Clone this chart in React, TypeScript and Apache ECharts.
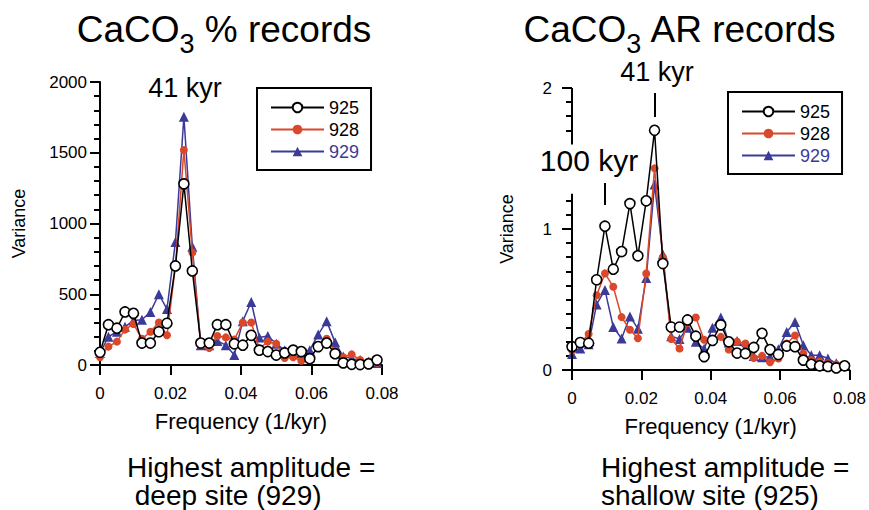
import React, { useEffect, useRef } from 'react';
import * as echarts from 'echarts';

const FONT = '"Liberation Sans", Arial, Helvetica, sans-serif';
const BLACK = '#000000';
const RED = '#d9482b';
const BLUE = '#3b3a98';

// frequency grid (1/kyr)
const freq = [
  0, 0.0024, 0.0048, 0.0071, 0.0095, 0.0119, 0.0143, 0.0167, 0.019, 0.0214,
  0.0238, 0.0262, 0.0286, 0.031, 0.0333, 0.0357, 0.0381, 0.0405, 0.0429, 0.0452,
  0.0476, 0.05, 0.0524, 0.0548, 0.0571, 0.0595, 0.0619, 0.0643, 0.0667, 0.069,
  0.0714, 0.0738, 0.0762, 0.0786,
];

// CaCO3 % records (variance)
const pct925 = [90, 285, 260, 375, 365, 155, 155, 235, 295, 700, 1280, 665, 155, 155, 285, 285, 150, 140, 210, 105, 95, 70, 85, 105, 95, 45, 130, 155, 80, 15, 5, 3, 8, 35];
const pct928 = [55, 130, 165, 250, 290, 185, 235, 300, 210, 700, 1520, 795, 140, 120, 205, 195, 180, 300, 300, 115, 165, 150, 50, 55, 30, 45, 130, 185, 100, 55, 75, 35, 25, 15];
const pct929 = [85, 200, 235, 270, 315, 320, 375, 500, 395, 870, 1755, 836, 140, 140, 170, 140, 70, 310, 445, 195, 205, 150, 105, 85, 85, 105, 215, 310, 160, 60, 45, 35, 25, 15];

// CaCO3 AR records (variance)
const ar925 = [0.165, 0.195, 0.19, 0.64, 1.02, 0.715, 0.84, 1.18, 0.81, 1.2, 1.7, 0.755, 0.305, 0.305, 0.355, 0.24, 0.095, 0.21, 0.32, 0.2, 0.12, 0.117, 0.16, 0.26, 0.145, 0.11, 0.17, 0.165, 0.07, 0.04, 0.03, 0.025, 0.015, 0.03];
const ar928 = [0.14, 0.19, 0.255, 0.53, 0.685, 0.59, 0.375, 0.285, 0.225, 0.685, 1.43, 0.8, 0.22, 0.153, 0.333, 0.372, 0.215, 0.205, 0.235, 0.146, 0.2, 0.188, 0.085, 0.1, 0.055, 0.082, 0.188, 0.245, 0.117, 0.07, 0.06, 0.047, 0.04, 0.035];
const ar929 = [0.113, 0.153, 0.183, 0.465, 0.568, 0.305, 0.223, 0.38, 0.293, 0.653, 1.315, 0.82, 0.24, 0.22, 0.3, 0.2, 0.15, 0.3, 0.372, 0.195, 0.205, 0.15, 0.1, 0.09, 0.094, 0.147, 0.27, 0.34, 0.176, 0.105, 0.105, 0.082, 0.047, 0.035];

// axis ticks
const xTickLabels = ['0', '0.02', '0.04', '0.06', '0.08'];
const pctTickLabels = ['0', '500', '1000', '1500', '2000'];
const arMajorTicks = [0, 1, 2];
const arMinorTicks = [0.1, 0.2, 0.3, 0.4, 0.5, 0.6, 0.7, 0.8, 0.9, 1.1, 1.2, 1.7, 1.8, 1.9];
// broken AR axis: drawn segments [from, to]
const arAxisSegments = [[0, 1.25], [1.6, 2]];
// period markers on AR panel: [frequency, yFrom, yTo]
const arMarkers = [[0.0238, 1.965, 1.795], [0.0095, 1.326, 1.17]];

const siteNames = ['925', '928', '929'];

export default function App() {
  const ref = useRef<HTMLDivElement>(null);

  useEffect(() => {
    const chart = echarts.init(ref.current!, null, { renderer: 'svg' });

    const toPts = (vals: number[]) => freq.map((f, i) => [f, vals[i]]);

    const styles: Record<string, any> = {
      '925': {
        symbol: 'circle', symbolSize: 10,
        itemStyle: { color: '#ffffff', borderColor: BLACK, borderWidth: 1.6 },
        lineStyle: { color: BLACK, width: 1.5 }, z: 4,
      },
      '928': {
        symbol: 'circle', symbolSize: 8,
        itemStyle: { color: RED, borderWidth: 0 },
        lineStyle: { color: RED, width: 1.5 }, z: 3,
      },
      '929': {
        symbol: 'triangle', symbolSize: 10,
        itemStyle: { color: BLUE, borderWidth: 0 },
        lineStyle: { color: BLUE, width: 1.5 }, z: 2,
      },
    };

    const mk = (name: string, vals: number[], xi: number, yi: number, extra: any = {}) => ({
      type: 'line',
      name,
      xAxisIndex: xi,
      yAxisIndex: yi,
      data: toPts(vals),
      clip: false,
      silent: true,
      ...styles[name],
      ...extra,
    });

    const axisLine = { show: true, lineStyle: { color: BLACK, width: 2 } };
    const tickLabel = { color: BLACK, fontSize: 17, fontFamily: FONT };
    const nameStyle = { color: BLACK, fontSize: 18, fontFamily: FONT };

    const xAxisBase = (gridIndex: number) => ({
      type: 'value',
      gridIndex,
      min: 0,
      max: 0.08,
      interval: 0.02,
      axisLine,
      axisTick: { show: true, length: 10, lineStyle: { color: BLACK, width: 2 } },
      axisLabel: {
        ...tickLabel,
        margin: 20,
        formatter: (v: number) => xTickLabels[Math.round(v / 0.02)] ?? '',
      },
      splitLine: { show: false },
      name: 'Frequency (1/kyr)',
      nameLocation: 'middle',
      nameGap: 45,
      nameTextStyle: { ...nameStyle, fontSize: 22 },
    });

    const legendBase = (left: number, top: number) => ({
      orient: 'vertical',
      left,
      top,
      padding: [10, 12, 9, 13],
      itemWidth: 53,
      itemHeight: 12,
      itemGap: 3,
      borderColor: BLACK,
      borderWidth: 2,
      textStyle: { fontSize: 18, fontFamily: FONT, color: BLACK, lineHeight: 19 },
      data: [
        { name: siteNames[0], textStyle: { color: BLACK } },
        { name: siteNames[1], textStyle: { color: BLACK } },
        { name: siteNames[2], textStyle: { color: BLUE } },
      ],
      selectedMode: false,
    });

    const titleRich = {
      a: { fontSize: 37, lineHeight: 37, fontFamily: FONT, color: BLACK, verticalAlign: 'top' },
      s: { fontSize: 27, lineHeight: 27, fontFamily: FONT, color: BLACK, verticalAlign: 'top', padding: [19, 0, 0, 0] },
    };

    const txt = (text: string, x: number, y: number, fontSize: number, align = 'center', lineHeight?: number) => ({
      type: 'text',
      x,
      y,
      silent: true,
      style: { text, fontSize, fontFamily: FONT, fill: BLACK, align, verticalAlign: 'middle', lineHeight },
    });

    const markerLines = [
      ...arAxisSegments.map(([a, b]) => [{ coord: [0, a] }, { coord: [0, b] }]),
      ...arMarkers.map(([f, a, b]) => [{ coord: [f, a] }, { coord: [f, b] }]),
    ];

    const option: any = {
      animation: false,
      backgroundColor: '#ffffff',
      textStyle: { fontFamily: FONT },
      grid: [
        { left: 100, top: 82, width: 282, height: 283 },
        { left: 572, top: 88, width: 281, height: 282 },
      ],
      xAxis: [xAxisBase(0), xAxisBase(1)],
      yAxis: [
        {
          type: 'value',
          gridIndex: 0,
          position: 'left',
          min: 0,
          max: 2000,
          interval: 500,
          axisLine,
          axisTick: { show: true, length: 10, lineStyle: { color: BLACK, width: 2 } },
          minorTick: { show: true, splitNumber: 5, length: 6, lineStyle: { color: BLACK, width: 2 } },
          minorSplitLine: { show: false },
          axisLabel: {
            ...tickLabel,
            margin: 13,
            formatter: (v: number) => pctTickLabels[Math.round(v / 500)] ?? '',
          },
          splitLine: { show: false },
          name: 'Variance',
          nameLocation: 'middle',
          nameRotate: 90,
          nameGap: 72,
          nameTextStyle: nameStyle,
        },
        {
          type: 'value',
          gridIndex: 1,
          position: 'left',
          min: 0,
          max: 2,
          axisLine: { show: false },
          axisTick: { show: true, length: 10, customValues: arMajorTicks, lineStyle: { color: BLACK, width: 2 } },
          axisLabel: { ...tickLabel, margin: 20, customValues: arMajorTicks },
          splitLine: { show: false },
          name: 'Variance',
          nameLocation: 'middle',
          nameRotate: 90,
          nameGap: 56,
          nameTextStyle: nameStyle,
        },
        {
          type: 'value',
          gridIndex: 1,
          position: 'left',
          offset: 0,
          min: 0,
          max: 2,
          axisLine: { show: false },
          axisTick: { show: true, length: 6, customValues: arMinorTicks, lineStyle: { color: BLACK, width: 2 } },
          axisLabel: { show: false },
          splitLine: { show: false },
        },
      ],
      legend: [legendBase(257, 88), legendBase(728, 92)],
      series: [
        mk('929', pct929, 0, 0),
        mk('928', pct928, 0, 0),
        mk('925', pct925, 0, 0),
        mk('929', ar929, 1, 1),
        mk('928', ar928, 1, 1),
        mk('925', ar925, 1, 1, {
          markLine: {
            silent: true,
            symbol: ['none', 'none'],
            label: { show: false },
            lineStyle: { color: BLACK, width: 2, type: 'solid' },
            data: markerLines,
          },
        }),
      ],
      graphic: [
        {
          type: 'text', x: 224, y: 11, silent: true,
          style: { text: '{a|CaCO}{s|3}{a| % records}', rich: titleRich, align: 'center', verticalAlign: 'top' },
        },
        {
          type: 'text', x: 680, y: 11, silent: true,
          style: { text: '{a|CaCO}{s|3}{a| AR records}', rich: titleRich, align: 'center', verticalAlign: 'top' },
        },
        txt('41 kyr', 185, 88, 27),
        txt('41 kyr', 657, 72, 27),
        txt('100 kyr', 589, 160, 30),
        txt('Highest amplitude =\n deep site (929)', 127, 481, 28, 'left', 28),
        txt('Highest amplitude =\nshallow site (925)', 601, 481, 28, 'left', 28),
      ],
    };

    chart.setOption(option);
    return () => chart.dispose();
  }, []);

  return (
    <div
      ref={ref}
      style={{ position: 'fixed', left: 0, top: 0, width: 869, height: 510, background: '#ffffff' }}
    />
  );
}
